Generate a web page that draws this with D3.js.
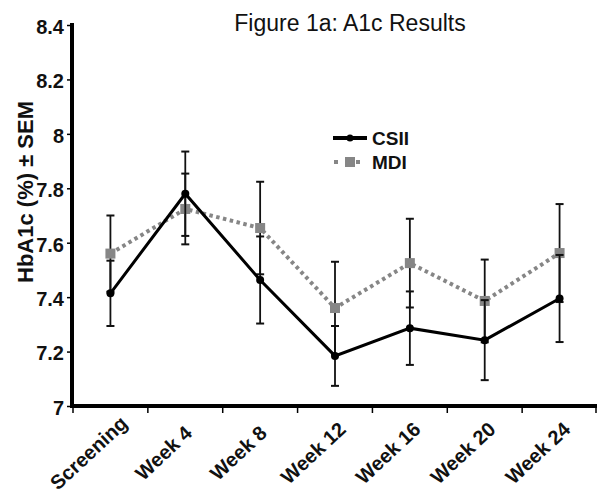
<!DOCTYPE html>
<html>
<head>
<meta charset="utf-8">
<script src="https://cdn.jsdelivr.net/npm/d3@7"></script>
<style>
  body { margin: 0; background: #fff; }
  svg { display: block; font-family: Arial, "Liberation Sans", sans-serif; }
</style>
</head>
<body>
<div id="container"></div>
<script>
/* DATA */
const visits = ["Screening", "Week 4", "Week 8", "Week 12", "Week 16", "Week 20", "Week 24"];
const csiiMean = [7.414, 7.78, 7.463, 7.184, 7.286, 7.242, 7.395];
const csiiSem = [0.12, 0.155, 0.16, 0.11, 0.135, 0.147, 0.16];
const mdiMean = [7.56, 7.724, 7.654, 7.36, 7.525, 7.386, 7.562];
const mdiSem = [0.14, 0.13, 0.17, 0.17, 0.163, 0.152, 0.18];
const yTicks = [7, 7.2, 7.4, 7.6, 7.8, 8, 8.2, 8.4];
const yTickLabels = ["7", "7.2", "7.4", "7.6", "7.8", "8", "8.2", "8.4"];

/* CONSTANTS */
const width = 597, height = 494,
      margin = { top: 25, bottom: 88, left: 73, right: 0 };

const svg = d3.select("#container").append("svg")
  .attr("width", width)
  .attr("height", height);

/* SCALES */
const xScale = d3.scaleBand()
  .domain(visits)
  .range([margin.left, width - margin.right])
  .padding(0);

const yScale = d3.scaleLinear()
  .domain([7, 8.4])
  .range([height - margin.bottom, margin.top]);

const cx = d => xScale(d) + xScale.bandwidth() / 2;

/* TITLE */
svg.append("text")
  .attr("x", 350)
  .attr("y", 31)
  .attr("text-anchor", "middle")
  .attr("font-size", 23)
  .attr("fill", "#111")
  .text("Figure 1a: A1c Results");

/* AXES */
const yAxis = svg.append("g")
  .attr("transform", `translate(${margin.left - 1},0)`)
  .call(d3.axisLeft(yScale).tickValues(yTicks)
    .tickFormat((d, i) => yTickLabels[i]).tickSize(5).tickPadding(3));
yAxis.select(".domain").remove();
yAxis.selectAll(".tick line").attr("stroke", "#000").attr("stroke-width", 1.5);
yAxis.selectAll(".tick text")
  .attr("font-size", 20)
  .attr("font-weight", "bold")
  .attr("fill", "#111")
  .attr("font-family", "Arial, 'Liberation Sans', sans-serif")
  .attr("dy", "0.42em");

svg.append("line")
  .attr("x1", margin.left - 1).attr("x2", margin.left - 1)
  .attr("y1", margin.top - 2).attr("y2", yScale(7) + 2)
  .attr("stroke", "#000").attr("stroke-width", 4);

const xAxis = svg.append("g")
  .attr("transform", `translate(0,${yScale(7)})`);
xAxis.selectAll("line")
  .data(visits.concat(["end"]))
  .enter()
  .append("line")
    .attr("x1", (d, i) => i < visits.length ? xScale(d) : width - 1)
    .attr("x2", (d, i) => i < visits.length ? xScale(d) : width - 1)
    .attr("y1", 0)
    .attr("y2", 7)
    .attr("stroke", "#000")
    .attr("stroke-width", 1.5);
xAxis.append("line")
  .attr("x1", margin.left - 3).attr("x2", width)
  .attr("y1", 0).attr("y2", 0)
  .attr("stroke", "#000").attr("stroke-width", 4);
xAxis.selectAll("text")
  .data(visits)
  .enter()
  .append("text")
    .attr("transform", d => `translate(${cx(d) - 17},${52}) rotate(-43)`)
    .attr("text-anchor", "middle")
    .attr("font-size", 20)
    .attr("font-weight", "bold")
    .attr("fill", "#111")
    .text(d => d);

/* Y AXIS LABEL */
svg.append("text")
  .attr("transform", `translate(33,192) rotate(-90)`)
  .attr("text-anchor", "middle")
  .attr("font-size", 22)
  .attr("font-weight", "bold")
  .attr("fill", "#111")
  .text("HbA1c (%) \u00b1 SEM");

/* SERIES */
const series = [
  { name: "MDI", mean: mdiMean, sem: mdiSem, color: "#868686", dash: "3.5,3.5", width: 4 },
  { name: "CSII", mean: csiiMean, sem: csiiSem, color: "#000", dash: null, width: 3 }
];

series.forEach(s => {
  const pts = visits.map((v, i) => ({ v, m: s.mean[i], e: s.sem[i] }));
  const g = svg.append("g");

  // error bars
  const eb = g.selectAll(".eb").data(pts).enter().append("g");
  eb.append("line")
    .attr("x1", d => cx(d.v)).attr("x2", d => cx(d.v))
    .attr("y1", d => yScale(d.m - d.e)).attr("y2", d => yScale(d.m + d.e))
    .attr("stroke", "#111").attr("stroke-width", 1.8);
  [-1, 1].forEach(sign => {
    eb.append("line")
      .attr("x1", d => cx(d.v) - 4).attr("x2", d => cx(d.v) + 4)
      .attr("y1", d => yScale(d.m + sign * d.e)).attr("y2", d => yScale(d.m + sign * d.e))
      .attr("stroke", "#111").attr("stroke-width", 2);
  });

  // line
  g.append("path")
    .datum(pts)
    .attr("fill", "none")
    .attr("stroke", s.color)
    .attr("stroke-width", s.width)
    .attr("stroke-dasharray", s.dash)
    .attr("d", d3.line().x(d => cx(d.v)).y(d => yScale(d.m)));

  // markers
  if (s.name === "MDI") {
    g.selectAll("rect").data(pts).enter().append("rect")
      .attr("x", d => cx(d.v) - 5).attr("y", d => yScale(d.m) - 5)
      .attr("width", 10).attr("height", 10)
      .attr("fill", s.color);
  } else {
    g.selectAll("circle").data(pts).enter().append("circle")
      .attr("cx", d => cx(d.v)).attr("cy", d => yScale(d.m))
      .attr("r", 4).attr("fill", s.color);
  }
});

/* LEGEND */
const legend = svg.append("g").attr("transform", "translate(333,138)");
legend.append("line")
  .attr("x1", 0).attr("x2", 34).attr("y1", 0).attr("y2", 0)
  .attr("stroke", "#000").attr("stroke-width", 4);
legend.append("circle").attr("cx", 17).attr("cy", 0).attr("r", 3.5).attr("fill", "#000");
legend.append("text")
  .attr("x", 39).attr("y", 7)
  .attr("font-size", 19).attr("font-weight", "bold").attr("fill", "#111")
  .text("CSII");
legend.append("line")
  .attr("x1", 1).attr("x2", 33).attr("y1", 24).attr("y2", 24)
  .attr("stroke", "#868686").attr("stroke-width", 4).attr("stroke-dasharray", "4,7");
legend.append("rect").attr("x", 12).attr("y", 19).attr("width", 10).attr("height", 10).attr("fill", "#868686");
legend.append("text")
  .attr("x", 39).attr("y", 31)
  .attr("font-size", 19).attr("font-weight", "bold").attr("fill", "#111")
  .text("MDI");
</script>
</body>
</html>
